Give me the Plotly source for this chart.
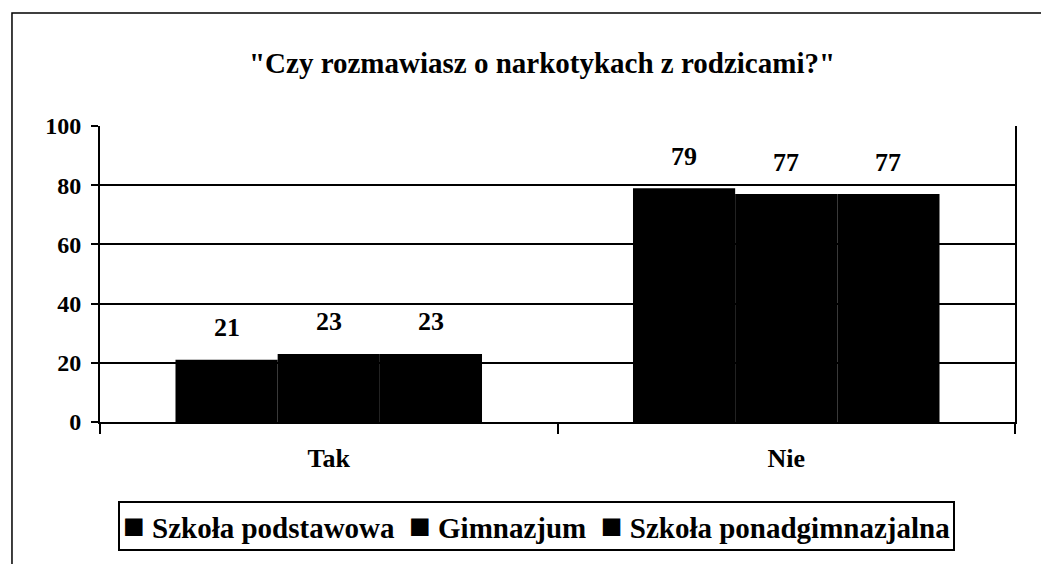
import plotly.graph_objects as go

categories = ["Tak", "Nie"]
series_names = ["Szkoła podstawowa", "Gimnazjum", "Szkoła ponadgimnazjalna"]
values = {
    "Szkoła podstawowa": [21, 79],
    "Gimnazjum": [23, 77],
    "Szkoła ponadgimnazjalna": [23, 77],
}
title_text = '"Czy rozmawiasz o narkotykach z rodzicami?"'
y_ticks = [0, 20, 40, 60, 80, 100]

FONT = "Liberation Serif, Times New Roman, serif"
W, H = 1041, 556  # page body has an 8px margin in the viewer

fig = go.Figure()
for i, name in enumerate(series_names):
    fig.add_trace(go.Bar(
        x=categories, y=values[name], name=name,
        marker=dict(color="black", line=dict(width=0)),
        offsetgroup=str(i), showlegend=False,
    ))

# value labels above bars (anchored to data values)
n = len(series_names)
bargap = 0.33
for ci, cat in enumerate(categories):
    for si, name in enumerate(series_names):
        v = values[name][ci]
        fig.add_annotation(
            x=ci + (si - (n - 1) / 2) * ((1 - bargap) / n), y=v, xref="x", yref="y",
            text="<b>%d</b>" % v, showarrow=False, yshift=32,
            font=dict(family=FONT, size=26, color="black"),
        )

# legend box built from series names
sq = '<span style="font-size:36px">\u25a0</span>'
legend_text = "\u00a0\u00a0".join(sq + "\u00a0" + nm for nm in series_names)
fig.add_annotation(
    xref="paper", yref="paper", x=0.477, y=-0.351, xanchor="center", yanchor="middle",
    text="<b>" + legend_text + "</b>", showarrow=False,
    font=dict(family=FONT, size=29, color="black"),
    bordercolor="black", borderwidth=2, borderpad=3, bgcolor="white",
)

fig.update_layout(
    width=W, height=H,
    paper_bgcolor="white", plot_bgcolor="white",
    margin=dict(l=92, r=34, t=118, b=142),
    barmode="group", bargap=bargap, bargroupgap=0,
    title=dict(text="<b>" + title_text + "</b>", x=0.513, xanchor="center",
               y=1 - 55 / H, yanchor="middle",
               font=dict(family=FONT, size=29, color="black")),
    showlegend=False,
    xaxis=dict(type="category", showline=True, linecolor="black", linewidth=2,
               ticks="outside", tickson="boundaries", ticklen=10, tickwidth=2, tickcolor="black",
               tickfont=dict(family=FONT, size=26, color="black"),
               ticklabelstandoff=12,
               showgrid=False, range=[-0.5, 1.5],
               tickvals=categories, ticktext=["<b>%s</b>" % c for c in categories]),
    yaxis=dict(range=[0, 100], tickvals=y_ticks, ticktext=["<b>%d</b>" % t for t in y_ticks],
               showline=True, mirror=True, linecolor="black", linewidth=2,
               ticks="outside", ticklen=7, tickwidth=2, tickcolor="black",
               ticklabelstandoff=5,
               showgrid=True, gridcolor="black", gridwidth=2,
               tickfont=dict(family=FONT, size=24, color="black"), zeroline=False),
)

# outer chart frame
fig.add_shape(type="rect", xref="paper", yref="paper",
              x0=-0.0962, x1=1.2, y0=-1.0, y1=1.382,
              line=dict(color="black", width=1.5), fillcolor="rgba(0,0,0,0)", layer="below")

fig.write_html("out.html")
